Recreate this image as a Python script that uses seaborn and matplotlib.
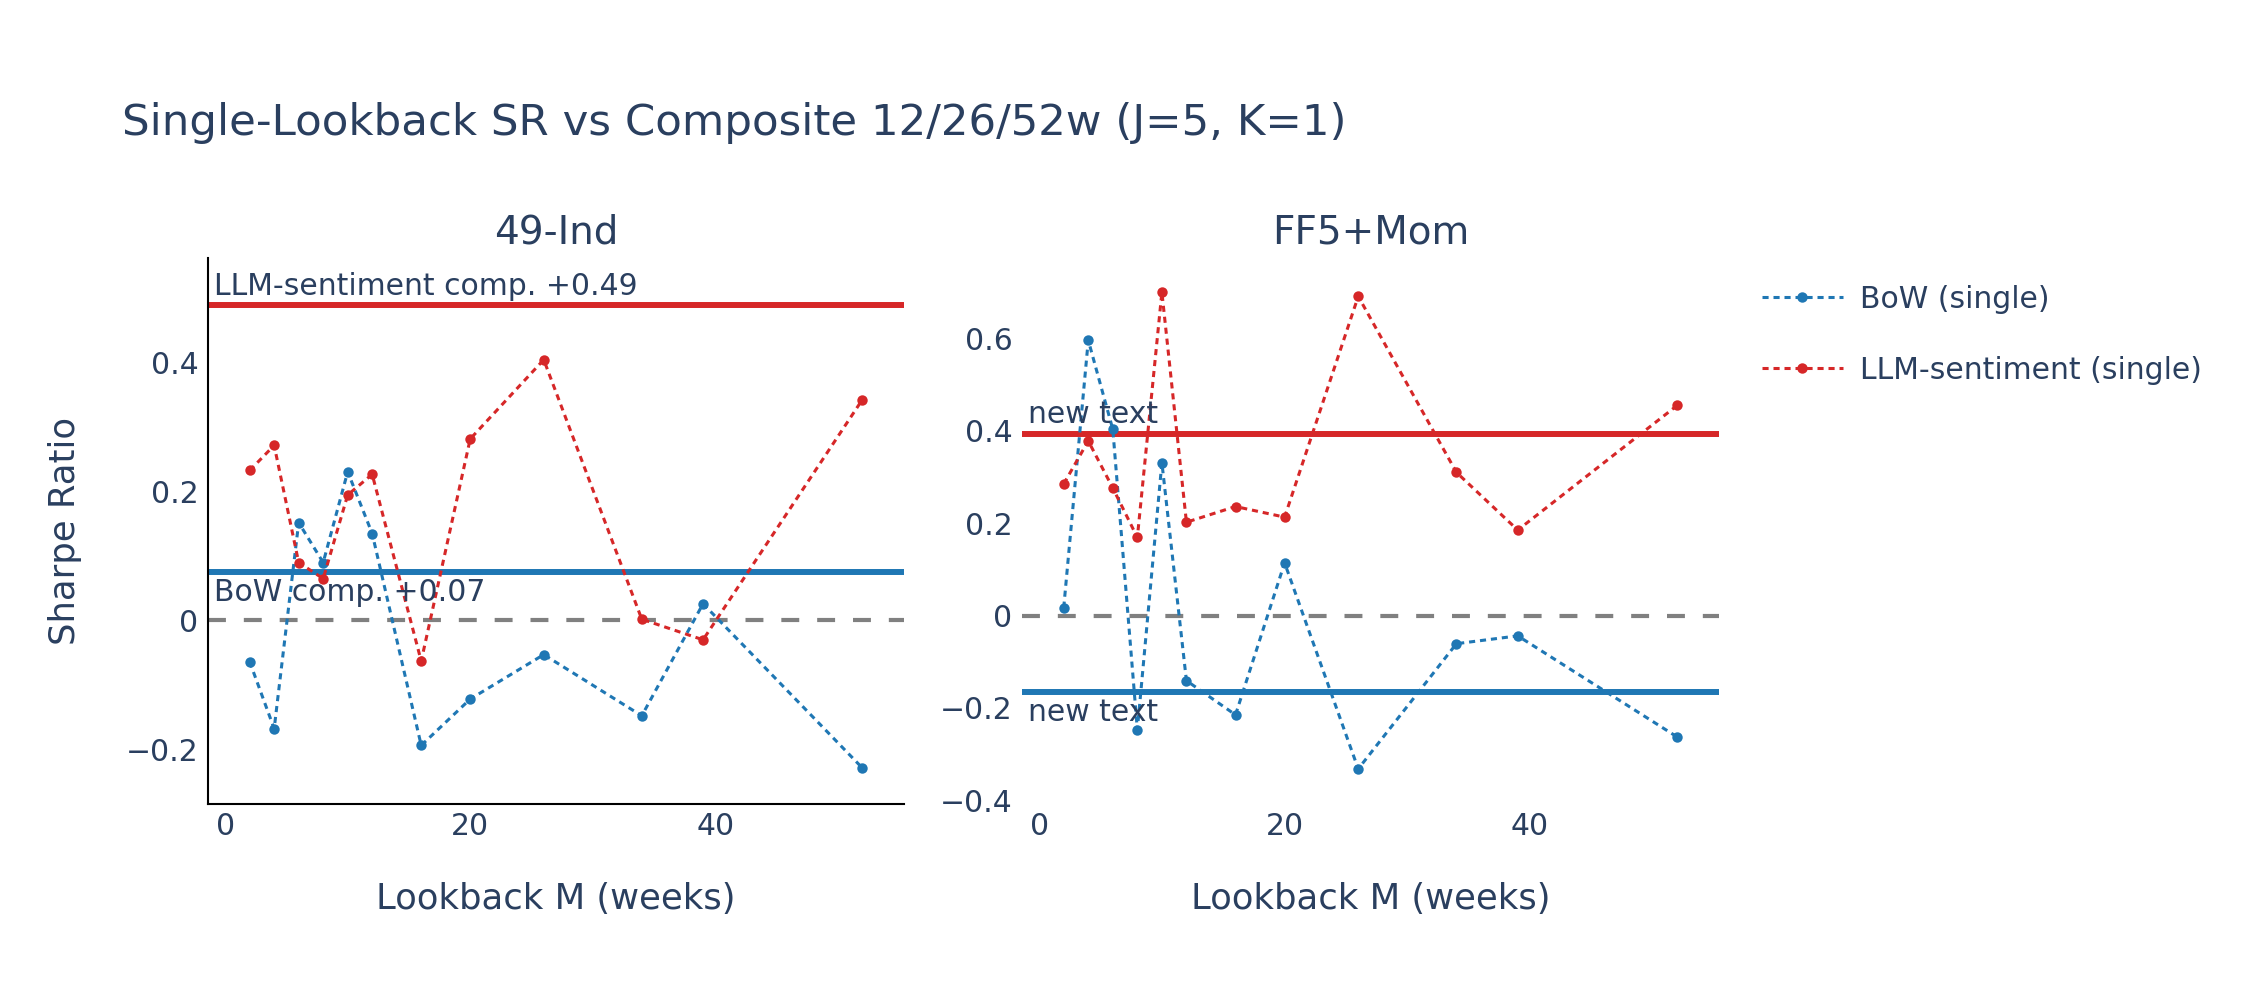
import pandas as pd
import matplotlib
matplotlib.use("Agg")
import matplotlib.pyplot as plt
from matplotlib.lines import Line2D
from matplotlib.ticker import FuncFormatter
import seaborn as sns

# lookback lengths (weeks)
lookbacks = [2, 4, 6, 8, 10, 12, 16, 20, 26, 34, 39, 52]

# 49-Ind single-lookback Sharpe ratios
ind_bow = [-0.064, -0.168, 0.152, 0.090, 0.231, 0.135, -0.194, -0.122, -0.053, -0.148, 0.026, -0.229]
ind_llm = [0.233, 0.272, 0.090, 0.065, 0.195, 0.227, -0.063, 0.282, 0.405, 0.002, -0.030, 0.343]

# FF5+Mom single-lookback Sharpe ratios
ff_bow = [0.017, 0.596, 0.403, -0.247, 0.331, -0.141, -0.215, 0.114, -0.332, -0.061, -0.044, -0.263]
ff_llm = [0.285, 0.378, 0.276, 0.169, 0.700, 0.202, 0.236, 0.213, 0.691, 0.310, 0.185, 0.455]

# composite 12/26/52w Sharpe ratios
ind_comp = {"BoW": 0.075, "LLM": 0.49}
ff_comp = {"BoW": -0.166, "LLM": 0.394}

panel_titles = ["49-Ind", "FF5+Mom"]
series_names = ["BoW (single)", "LLM-sentiment (single)"]
colors = {"BoW (single)": "#1f77b4", "LLM-sentiment (single)": "#d62728"}
txt = "#2a3f5f"

sns.set_theme(style="white")
plt.rcParams["font.family"] = ["DejaVu Sans"]

fig = plt.figure(figsize=(22.5, 10), dpi=100)
ax1 = fig.add_axes([208 / 2250, 0.196, 696 / 2250, 0.546])
ax2 = fig.add_axes([1022 / 2250, 0.196, 697 / 2250, 0.546])

fmt = FuncFormatter(lambda v, p: f"{v:g}".replace("-", "\u2212"))

panels = [
    (ax1, ind_bow, ind_llm, ind_comp, ["BoW comp. +0.07", "LLM-sentiment comp. +0.49"], (-0.285, 0.563), [-0.2, 0, 0.2, 0.4]),
    (ax2, ff_bow, ff_llm, ff_comp, ["new text", "new text"], (-0.408, 0.774), [-0.4, -0.2, 0, 0.2, 0.4, 0.6]),
]

for ax, bow, llm, comp, labels, ylim, yticks in panels:
    df = pd.DataFrame({
        "M": lookbacks * 2,
        "SR": bow + llm,
        "series": [series_names[0]] * len(lookbacks) + [series_names[1]] * len(lookbacks),
    })
    # zero line
    ax.axhline(0, color="#808080", lw=3, ls=(0, (4.3, 4.3)), zorder=1)
    # composite lines
    ax.axhline(comp["LLM"], color=colors[series_names[1]], lw=4.3, zorder=2)
    ax.axhline(comp["BoW"], color=colors[series_names[0]], lw=4.3, zorder=2)
    for name in series_names:
        sub = df[df["series"] == name]
        sns.lineplot(data=sub, x="M", y="SR", ax=ax, color=colors[name], marker="o",
                     markersize=7.5, markeredgewidth=0, lw=2.2, linestyle=(0, (2, 1.6)),
                     legend=False, zorder=3)
    # composite annotations
    ax.annotate(labels[1], xy=(0, comp["LLM"]), xycoords=("axes fraction", "data"),
                xytext=(4, 3), textcoords="offset points", ha="left", va="bottom",
                fontsize=21.5, color=txt)
    ax.annotate(labels[0], xy=(0, comp["BoW"]), xycoords=("axes fraction", "data"),
                xytext=(4, -4), textcoords="offset points", ha="left", va="top",
                fontsize=21.5, color=txt)
    ax.set_xlim(-1.4, 55.4)
    ax.set_ylim(*ylim)
    ax.set_xticks([0, 20, 40])
    ax.set_yticks(yticks)
    ax.yaxis.set_major_formatter(fmt)
    ax.tick_params(axis="both", length=0, labelsize=21.5, colors=txt)
    ax.tick_params(axis="y", pad=7)
    ax.tick_params(axis="x", pad=6)
    ax.set_xlabel("Lookback M (weeks)", fontsize=25.5, color=txt)
    ax.xaxis.set_label_coords(0.5, (804 - 899) / 546)
    ax.xaxis.label.set_va("center")
    ax.set_ylabel("")
    for s in ax.spines.values():
        s.set_visible(False)

ax1.spines["left"].set_visible(True)
ax1.spines["bottom"].set_visible(True)
ax1.spines["left"].set_color("black")
ax1.spines["bottom"].set_color("black")
ax1.spines["left"].set_linewidth(1.5)
ax1.spines["bottom"].set_linewidth(1.5)
ax1.set_ylabel("Sharpe Ratio", fontsize=25.5, color=txt)
ax1.yaxis.set_label_coords((65 - 208) / 696, 0.5)
ax1.yaxis.label.set_va("center")

for ax, t in zip([ax1, ax2], panel_titles):
    pos = ax.get_position()
    fig.text((pos.x0 + pos.x1) / 2, 1 - 233 / 1000, t, ha="center", va="center",
             fontsize=28, color=txt)

fig.text(122 / 2250, 1 - 123 / 1000, "Single-Lookback SR vs Composite 12/26/52w (J=5, K=1)",
         ha="left", va="center", fontsize=31.3, color=txt)

handles = [Line2D([], [], color=colors[n], lw=2.2, ls=(0, (2, 1.6)), marker="o",
                  markersize=7.5, markeredgewidth=0) for n in series_names]
fig.legend(handles, series_names, loc="upper left", bbox_to_anchor=(1750 / 2250, 1 - 273 / 1000),
           frameon=False, fontsize=21.5, labelcolor=txt, handlelength=2.7, labelspacing=1.4,
           handletextpad=0.6, borderaxespad=0)

fig.savefig("out.png", dpi=100, facecolor="white")
